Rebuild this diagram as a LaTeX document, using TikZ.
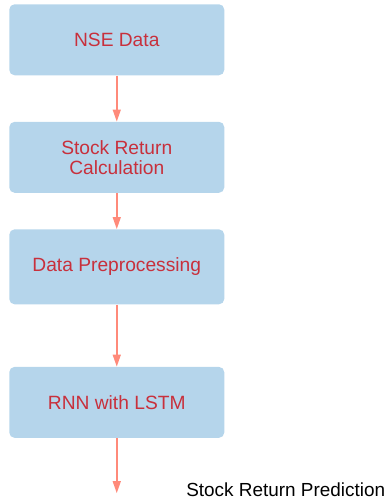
\documentclass[tikz,border=0pt]{standalone}
\usepackage{fontspec}
\setmainfont{Liberation Sans}
\usetikzlibrary{arrows.meta,positioning}

\definecolor{boxblue}{HTML}{B5D5EB}
\definecolor{boxred}{HTML}{C8303C}
\definecolor{flowpink}{HTML}{FF8A7A}

\begin{document}
\begin{tikzpicture}[>={Triangle[length=9pt,width=6pt]},
        flow/.style={->,draw=flowpink,line width=1.1pt},
        stage/.style={draw=none,fill=boxblue,rounded corners=4pt,
            minimum width=161.25pt,minimum height=53.25pt,
            text=boxred,align=center,font=\fontsize{14.4}{15}\selectfont},
        node distance=34.5pt]

  \useasboundingbox (0,0) rectangle (289.5pt,-377.25pt);

  \node[stage,anchor=north west] (nse) at (6.75pt,-3pt) {NSE Data};
  \node[stage] (ret) [below=of nse] {Stock Return\\Calculation};
  \node[stage,minimum height=56.25pt] (prep) [below=27pt of ret] {Data Preprocessing};
  \node[stage] (rnn) [below=46.5pt of prep] {RNN with LSTM};
  \coordinate (out) at ([yshift=-41.25pt]rnn.south);
  \node[anchor=base west,inner sep=0pt,font=\fontsize{14.2}{16}\selectfont]
      (pred) at (139.5pt,-372pt) {Stock Return Prediction};

  \draw[flow] (nse) -- (ret);
  \draw[flow] (ret) -- (prep);
  \draw[flow] (prep) -- (rnn);
  \draw[flow] (rnn) -- (out);

\end{tikzpicture}
\end{document}
